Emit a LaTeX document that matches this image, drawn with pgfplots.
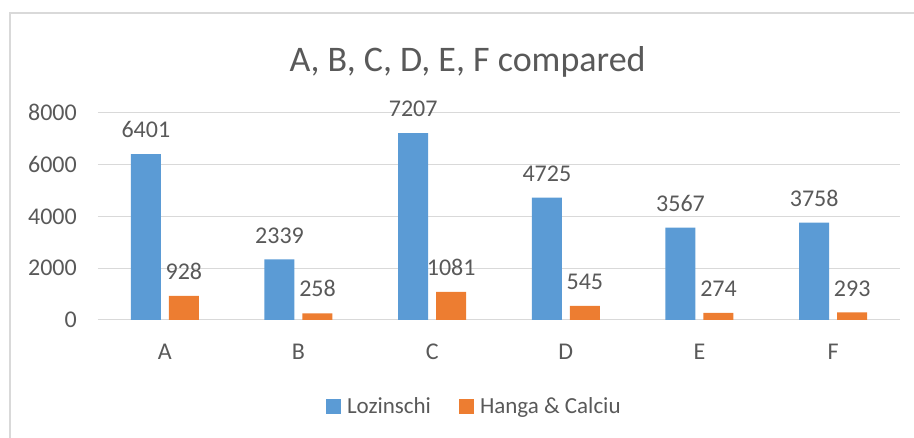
\documentclass[border=0pt]{standalone}
\usepackage{pgfplots}
\pgfplotsset{compat=1.18}
\usepackage{fontspec}
\setmainfont{Carlito}
\definecolor{txtgray}{HTML}{595959}
\definecolor{gridgray}{HTML}{D9D9D9}
\definecolor{xlblue}{HTML}{5B9BD5}
\definecolor{xlorange}{HTML}{ED7D31}
\begin{document}
\begin{tikzpicture}[x=1pt,y=1pt]
\path[use as bounding box] (0,0) rectangle (914,438);
\draw[gridgray, line width=2pt] (10,0) -- (10,425) -- (914,425);
\node[anchor=base, text=txtgray, font=\fontsize{36}{40}\selectfont, inner sep=0pt] at (467.5,366.3) {A, B, C, D, E, F compared};
\begin{axis}[
  at={(98pt,118pt)}, anchor=south west,
  scale only axis, width=802pt, height=207.3pt,
  ybar=8pt, bar width=30pt,
  xmin=-0.5, xmax=5.5, ymin=0, ymax=8000,
  enlarge x limits=false,
  xtick={0,1,2,3,4,5},
  xticklabels={A,B,C,D,E,F},
  ytick={0,2000,4000,6000,8000},
  ymajorgrids, grid style={gridgray, line width=1pt},
  axis line style={draw=none},
  major tick length=0pt,
  /pgf/number format/assume math mode=true,
  /pgf/number format/1000 sep={},
  tick label style={text=txtgray, font=\fontsize{24}{28}\selectfont, inner sep=0pt},
  xticklabel style={anchor=north, yshift=-24pt},
  yticklabel style={anchor=east, xshift=-21pt},
  nodes near coords,
  every node near coord/.append style={anchor=south, inner sep=0pt, yshift=16pt, text=txtgray, font=\fontsize{24}{28}\selectfont, /pgf/number format/assume math mode=true, /pgf/number format/1000 sep={}},
  legend columns=-1,
  legend style={at={(0.468,-0.415)}, anchor=center, draw=none, fill=none, inner sep=0pt,
    font=\fontsize{23}{27}\selectfont, text=txtgray,
    nodes={inner sep=0pt},
    /tikz/every odd column/.append style={column sep=6pt},
    /tikz/every even column/.append style={column sep=28pt}},
  legend image code/.code={\fill[#1] (0pt,-7.5pt) rectangle (15pt,7.5pt);},
]
\addplot[fill=xlblue, draw=none] coordinates {(0,6401) (1,2339) (2,7207) (3,4725) (4,3567) (5,3758)};
\addplot[fill=xlorange, draw=none] coordinates {(0,928) (1,258) (2,1081) (3,545) (4,274) (5,293)};
\legend{Lozinschi, Hanga \& Calciu}
\end{axis}
\end{tikzpicture}
\end{document}
